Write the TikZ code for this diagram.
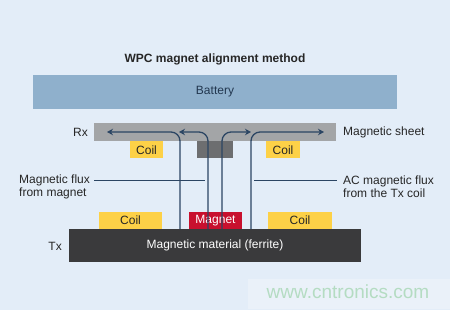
\documentclass[tikz,border=0pt]{standalone}
\usepackage{fontspec}
\setmainfont{Liberation Sans}
\usetikzlibrary{arrows.meta, calc}
\definecolor{bgBlue}{HTML}{E3EDF8}
\definecolor{batBlue}{HTML}{8FB0CC}
\definecolor{sheetGray}{HTML}{A3A5A7}
\definecolor{blockGray}{HTML}{6D6E70}
\definecolor{coilYellow}{HTML}{FDD147}
\definecolor{magnetRed}{HTML}{C8102E}
\definecolor{ferriteDark}{HTML}{3A3A3C}
\definecolor{fluxNavy}{HTML}{2B4563}
\definecolor{markGreen}{HTML}{B4DCC2}
\colorlet{textDark}{black!85}

\begin{document}
\begin{tikzpicture}[x=1pt, y=-1pt,
  slab/.style={inner sep=0pt, font=\fontsize{12}{14}\selectfont},
  coilbox/.style={slab, fill=coilYellow, minimum height=17pt, text=textDark},
  flux/.style={-{Stealth[length=6pt,width=6.5pt]}, fluxNavy, line width=1.3pt, rounded corners=9pt},
  leader/.style={fluxNavy, line width=0.6pt},
  lbl/.style={inner sep=0pt, font=\fontsize{12}{13}\selectfont, text=textDark, align=left}
]
  \fill[bgBlue] (0,0) rectangle (450,310);
  \useasboundingbox (0,0) rectangle (450,310);

  \node[inner sep=0pt, font=\fontsize{12}{14}\selectfont\bfseries, text=textDark] (title) at (215,59) {WPC magnet alignment method};

  \node[slab, fill=batBlue, minimum width=364pt, minimum height=34pt, text=fluxNavy!80!black] (bat) at (215,92) {Battery};

  % receiver side
  \node[slab, fill=sheetGray, minimum width=242pt, minimum height=18pt] (sheet) at (215,132) {};
  \node[slab, fill=blockGray, minimum width=36pt, minimum height=17pt] (block) at (215,149.5) {};
  \node[coilbox, minimum width=33pt] (rxcoilL) at (146.5,150) {Coil};
  \node[coilbox, minimum width=34pt] (rxcoilR) at (283,150) {Coil};

  % transmitter side
  \node[slab, fill=ferriteDark, minimum width=292pt, minimum height=33pt, text=white] (ferrite) at (215,245.5) {Magnetic material (ferrite)};
  \node[coilbox, minimum width=63pt] (txcoilL) at (130.5,220.5) {Coil};
  \node[slab, fill=magnetRed, minimum width=53pt, minimum height=17pt, text=white] (magnet) at (215.5,220.5) {Magnet};
  \node[coilbox, minimum width=64pt] (txcoilR) at (300,220.5) {Coil};

  % flux paths
  \coordinate (s1) at (180,229);
  \coordinate (s2) at (208,229);
  \coordinate (s3) at (222,229);
  \coordinate (s4) at (251,229);
  \coordinate (e1) at (107,132);
  \coordinate (e2) at (179,132);
  \coordinate (e3) at (251,132);
  \coordinate (e4) at (324,132);
  \draw[flux] (s1) |- (e1);
  \draw[flux] (s2) |- (e2);
  \draw[flux] (s3) |- (e3);
  \draw[flux] (s4) |- (e4);

  % labels
  \node[lbl, anchor=east] (rx) at (88,132) {Rx};
  \node[lbl, anchor=east] (tx) at (62,246) {Tx};
  \node[lbl, anchor=west] (sheetlbl) at (343,132) {Magnetic sheet};
  \node[lbl, anchor=west] (magflux) at (19,186.5) {Magnetic flux\\from magnet};
  \node[lbl, anchor=west] (acflux) at (343,186.5) {AC magnetic flux\\from the Tx coil};
  \coordinate (m1) at (205,180);
  \coordinate (m2) at (254,180);
  \draw[leader] (magflux.east |- m1) ++(4,0) -- (m1);
  \draw[leader] (m2) -- ($(acflux.west |- m2)+(-6,0)$);

  % watermark
  \fill[white, opacity=0.25] (248,279) rectangle (450,309);
  \node[inner sep=0pt, font=\fontsize{19}{21}\selectfont, text=markGreen] (mark) at (348,292) {www.cntronics.com};
\end{tikzpicture}
\end{document}
